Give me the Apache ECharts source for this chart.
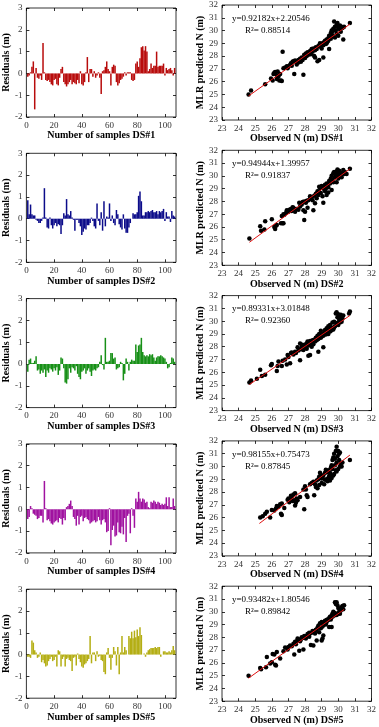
<!DOCTYPE html>
<html>
<head>
<meta charset="utf-8">
<script src="https://cdn.jsdelivr.net/npm/echarts@6/dist/echarts.min.js"></script>
<style>
  html, body { margin: 0; padding: 0; background: #fff; }
  #chart { width: 379px; height: 727px; }
</style>
</head>
<body>
<div id="chart"></div>
<script>
const dsNames = ['DS#1', 'DS#2', 'DS#3', 'DS#4', 'DS#5'];

// residuals per sample (m), samples 1..107
const residuals1 = [-0.15,-0.1,0.05,0.3,0.55,-1.65,0.25,-0.2,-0.25,-0.1,-0.3,1.4,0.05,-0.3,-0.35,-0.3,-0.4,-0.5,-0.55,-0.3,-0.25,-0.5,-0.55,-0.2,0.2,0.3,-0.4,-0.5,-0.6,-0.5,-0.4,-0.3,-0.5,-0.4,-0.45,-0.5,-0.3,-0.45,0.1,-0.5,-0.55,-0.4,0.05,0.75,-0.4,0.2,0.2,-0.15,0.1,-0.2,-0.1,0.05,-0.2,-0.95,0.1,0.15,0.3,0.55,0.2,0.1,-0.55,0.3,0.4,0.35,-0.4,-0.55,-0.45,-0.3,-0.25,-0.15,0.05,-0.1,0.05,0.05,0.05,-0.3,-0.35,-0.3,0.45,0.55,0.3,0.7,1.2,1.25,1.05,1.25,1.0,0.1,0.2,0.45,0.25,0.35,0.35,1.0,0.3,0.35,0.35,0.35,0.45,-0.1,0.25,0.15,0.2,0.25,0.15,-0.1,0.25];
const residuals2 = [0.85,0.2,0.65,0.2,0.15,0.15,-0.05,-0.1,-0.2,-0.2,-0.1,0.05,1.4,0.05,-0.4,-0.45,0.05,-0.3,-0.45,-0.3,-0.2,-0.35,-0.25,-0.3,-0.7,-0.3,0.25,0.15,0.9,0.2,0.15,0.35,0.05,-0.05,-0.55,-0.05,-0.05,-0.2,-0.35,-0.75,-0.6,-0.45,-0.5,-0.3,-0.3,-0.2,0.05,-0.1,-0.35,-0.45,0.7,-0.1,-0.3,0.3,-0.55,0.8,-0.35,0.1,0.05,0.7,-0.1,0.15,-0.2,-0.3,0.4,0.2,-0.25,-0.4,-0.5,0.2,-0.45,-0.65,-0.65,-0.4,-0.2,0.0,0.25,0.2,0.2,0.3,1.05,1.25,0.8,0.15,0.15,0.3,0.3,0.35,0.3,0.35,0.4,0.3,0.3,0.35,0.2,0.35,0.3,0.35,0.45,-0.1,0.3,0.1,0.1,-0.15,0.35,0.15,0.1];
const residuals3 = [-0.35,0.2,0.25,0.05,0.05,0.15,0.35,-0.3,-0.25,-0.45,-0.3,-0.4,-0.25,-0.6,-0.3,-0.4,-0.2,-0.25,-0.35,-0.2,-0.3,-0.15,-0.5,-0.3,0.3,0.25,-0.2,-0.85,-0.9,-0.7,-0.2,-0.4,-0.15,-0.2,-0.3,-0.1,-0.45,-0.6,-0.7,-0.35,-0.3,-0.2,-0.45,-0.3,-0.2,-0.35,-0.55,-0.3,-0.25,-0.3,-0.2,-0.15,0.1,0.4,-0.05,-0.25,1.2,0.1,0.1,0.15,0.5,0.5,0.25,0.3,-0.25,-0.2,-0.15,0.1,0.05,-0.75,-0.45,0.25,0.1,-0.3,0.1,0.2,0.15,0.15,0.9,0.55,0.85,0.9,1.2,0.55,0.4,0.35,0.4,0.35,0.45,0.4,0.45,0.3,0.15,0.3,0.35,0.35,0.4,0.35,0.3,0.25,0.1,-0.2,-0.15,0.05,0.3,0.25,0.1];
const residuals4 = [-0.45,-0.35,0.15,0.05,-0.2,-0.25,-0.3,-0.45,-0.4,-0.3,-0.3,-0.6,1.3,0.05,-0.5,-0.45,-0.55,-0.65,-0.7,-0.6,-0.55,-0.5,-0.6,-0.4,-0.45,-0.7,-0.4,-0.5,0.1,0.15,0.25,0.4,0.15,-0.35,-0.45,-0.75,-0.3,-0.7,-0.35,-0.3,-0.55,-0.4,-0.35,-0.45,-0.5,-0.65,-0.6,-0.55,-0.5,-0.6,-0.55,-0.35,-0.5,-0.7,-0.5,-0.45,-0.6,-1.05,-1.0,0.05,-1.65,-0.95,-0.75,-1.25,-1.2,-0.6,-1.05,-1.1,-0.8,-1.15,-0.4,-1.5,-0.3,-0.2,-1.1,0.05,-0.3,-0.85,0.5,0.35,0.8,0.5,0.35,0.5,0.45,0.3,0.35,0.1,0.05,0.35,0.3,0.4,0.35,0.25,0.35,0.3,0.2,0.25,0.2,0.25,0.55,0.15,0.55,0.1,0.1,0.5,0.15];
const residuals5 = [-0.1,-0.1,-0.15,0.65,0.55,0.2,0.1,-0.15,-0.1,0.1,-0.35,-0.25,-0.4,-0.55,-0.5,-0.3,-0.2,-0.1,-0.3,-0.25,-0.1,-0.55,0.2,0.15,-0.55,-0.2,-0.1,-0.55,-0.2,-0.15,-0.25,-0.3,-0.75,-0.15,-0.1,-0.5,0.05,-0.2,-0.35,-0.55,-0.6,-0.45,-0.4,-0.3,-0.2,0.85,-0.4,0.1,0.1,-0.3,0.15,-0.1,-0.05,-0.25,-0.3,-0.8,-0.9,0.1,0.3,-0.15,-0.7,-0.15,0.35,0.15,-0.5,0.35,-0.9,0.1,0.85,0.1,0.35,0.2,0.0,0.85,0.75,1.05,0.75,1.1,0.8,1.15,0.85,1.25,0.9,0.0,0.05,-0.1,0.1,0.2,0.25,0.3,0.3,0.3,0.35,0.3,0.35,0.35,-0.1,0.0,0.15,0.15,0.1,0.1,0.15,0.1,0.2,0.4,0.2];

// observed N (m) vs MLR predicted N (m)
const scatter1 = [[24.6,25.0],[24.75,25.3],[25.6,25.8],[25.95,26.25],[26.05,26.1],[26.1,26.6],[26.15,26.7],[26.2,26.75],[26.3,26.5],[26.3,26.2],[26.35,26.8],[26.4,26.4],[26.45,26.1],[26.55,26.1],[26.6,26.05],[26.5,26.6],[26.65,28.35],[26.7,27.05],[26.8,27.1],[26.9,27.2],[27.0,27.2],[27.1,27.3],[27.2,27.25],[27.25,27.55],[27.3,27.6],[27.35,26.6],[27.4,27.65],[27.5,27.35],[27.6,27.7],[27.7,27.8],[27.75,27.55],[27.8,27.9],[27.85,27.7],[27.9,26.55],[27.95,28.1],[28.0,27.85],[28.05,28.2],[28.1,28.0],[28.15,28.3],[28.2,28.25],[28.3,28.4],[28.35,28.15],[28.4,28.5],[28.45,28.35],[28.5,28.6],[28.55,28.0],[28.6,27.9],[28.6,28.45],[28.65,28.7],[28.7,28.55],[28.75,27.6],[28.8,28.8],[28.85,27.7],[28.9,28.75],[28.95,28.95],[29.0,28.6],[29.05,29.0],[29.1,27.9],[29.1,28.85],[29.15,29.1],[29.2,29.2],[29.25,28.95],[29.3,29.3],[29.35,29.15],[29.4,29.4],[29.45,28.55],[29.45,29.6],[29.5,29.5],[29.55,29.8],[29.6,29.7],[29.6,30.0],[29.65,29.9],[29.7,30.15],[29.7,29.55],[29.75,30.7],[29.8,30.3],[29.85,30.0],[29.9,30.45],[29.9,29.75],[29.95,30.6],[30.0,30.2],[30.0,29.6],[30.05,30.35],[30.1,30.1],[30.15,29.9],[30.2,30.3],[30.25,30.2],[30.3,29.3],[30.35,30.3],[30.7,30.6],[29.3,29.0],[29.4,29.2],[28.9,29.0],[28.4,28.55],[28.2,28.1],[27.6,27.5],[27.15,27.45],[26.95,27.05],[29.55,29.35],[29.8,29.45],[30.1,30.4]];
const scatter2 = [[24.65,25.1],[25.3,26.05],[25.35,25.7],[25.6,26.45],[25.55,25.8],[26.0,26.6],[26.15,26.0],[26.2,25.85],[26.25,26.1],[26.3,26.15],[26.55,26.3],[26.65,26.3],[26.7,26.3],[26.6,26.85],[26.7,27.0],[26.75,26.95],[26.85,27.1],[26.9,27.3],[27.0,27.2],[27.05,27.35],[27.15,27.4],[27.2,27.25],[27.3,27.5],[27.35,27.4],[27.4,27.2],[27.5,27.4],[27.6,27.35],[27.7,27.6],[27.8,27.75],[27.85,27.95],[27.9,27.3],[27.95,26.55],[27.95,28.0],[28.0,27.2],[28.05,27.9],[28.1,28.05],[28.15,27.5],[28.2,28.1],[28.3,28.2],[28.4,28.3],[28.45,28.1],[28.5,27.3],[28.55,28.45],[28.6,27.85],[28.65,28.6],[28.7,28.25],[28.75,28.8],[28.8,28.5],[28.85,28.75],[28.9,29.05],[28.95,28.65],[29.0,29.2],[29.05,28.4],[29.1,27.9],[29.1,29.1],[29.15,28.95],[29.2,29.3],[29.25,29.0],[29.3,28.5],[29.3,29.4],[29.35,29.25],[29.4,28.7],[29.45,29.6],[29.5,29.4],[29.55,29.8],[29.6,28.9],[29.6,30.0],[29.65,29.7],[29.7,30.2],[29.75,30.3],[29.8,29.9],[29.85,30.1],[29.9,30.35],[29.9,29.5],[29.95,30.5],[30.0,29.8],[30.0,30.2],[30.05,30.4],[30.1,30.0],[30.15,30.25],[30.2,29.9],[30.25,30.1],[30.3,30.45],[30.35,30.15],[30.4,30.3],[30.5,30.15],[30.7,30.55],[29.2,28.8],[28.3,28.4],[27.65,27.9],[29.4,29.1],[29.7,29.5],[30.0,30.05],[28.85,29.15],[27.25,27.55]];
const scatter3 = [[24.65,25.2],[24.75,25.35],[25.1,25.5],[25.3,26.2],[25.4,25.7],[25.6,25.8],[25.95,26.55],[26.0,26.65],[26.3,26.1],[26.35,26.5],[26.4,26.85],[26.6,26.5],[26.65,26.9],[26.8,27.0],[26.9,26.6],[26.95,27.35],[27.0,27.2],[27.1,26.7],[27.15,27.5],[27.2,27.55],[27.3,27.4],[27.45,27.5],[27.55,27.95],[27.6,27.7],[27.7,26.95],[27.7,28.25],[27.75,27.8],[27.8,28.0],[27.85,28.15],[27.9,27.75],[27.95,28.05],[28.0,27.9],[28.05,28.2],[28.1,27.85],[28.15,28.4],[28.2,27.3],[28.2,28.1],[28.3,27.35],[28.3,28.45],[28.35,28.2],[28.4,28.3],[28.45,28.5],[28.5,28.2],[28.55,28.55],[28.6,28.4],[28.65,28.7],[28.7,28.5],[28.75,28.85],[28.8,27.6],[28.8,28.6],[28.85,29.0],[28.9,28.75],[28.95,29.25],[29.0,28.8],[29.05,29.0],[29.1,27.95],[29.1,28.85],[29.15,29.1],[29.2,29.3],[29.25,28.95],[29.3,29.45],[29.35,29.2],[29.4,29.6],[29.4,29.0],[29.45,29.35],[29.5,29.7],[29.55,29.25],[29.6,29.5],[29.65,29.9],[29.7,29.35],[29.75,29.95],[29.8,29.6],[29.85,30.6],[29.9,30.7],[29.9,29.85],[29.95,30.3],[30.0,29.7],[30.0,30.55],[30.05,30.1],[30.1,29.9],[30.15,30.5],[30.2,29.95],[30.25,30.2],[30.3,30.45],[30.7,30.75],[30.65,30.6],[29.2,29.0],[29.6,29.3],[28.4,28.0],[28.95,28.7],[27.4,27.6],[29.75,29.5],[30.1,30.3],[29.5,29.2],[28.1,28.25]];
const scatter4 = [[25.3,26.0],[25.45,26.1],[25.6,26.3],[25.7,26.45],[25.9,26.0],[26.0,26.6],[26.15,26.55],[26.25,26.7],[26.3,26.9],[26.4,26.85],[26.5,27.05],[26.55,26.3],[26.6,26.2],[26.6,27.1],[26.75,26.75],[26.95,27.4],[27.0,27.5],[27.05,27.2],[27.1,27.45],[27.15,27.7],[27.2,27.6],[27.25,27.3],[27.3,27.8],[27.35,27.35],[27.4,27.9],[27.4,26.95],[27.45,27.15],[27.5,27.5],[27.55,27.35],[27.7,27.6],[27.9,28.2],[27.95,26.65],[28.0,28.45],[28.05,28.2],[28.1,27.75],[28.15,27.6],[28.3,28.6],[28.4,28.7],[28.5,28.8],[28.55,27.75],[28.6,28.6],[28.65,28.4],[28.7,28.9],[28.75,28.3],[28.8,29.0],[28.85,29.2],[28.9,29.5],[28.95,29.35],[29.0,28.7],[29.05,29.1],[29.1,29.3],[29.15,28.6],[29.2,29.5],[29.2,28.95],[29.25,29.75],[29.3,29.0],[29.3,29.55],[29.35,28.85],[29.4,29.7],[29.4,29.1],[29.45,29.25],[29.5,29.5],[29.5,28.9],[29.55,29.9],[29.55,29.3],[29.6,29.1],[29.6,30.1],[29.65,30.5],[29.7,29.3],[29.7,30.7],[29.75,31.0],[29.75,29.4],[29.8,30.6],[29.8,30.1],[29.85,31.2],[29.85,29.7],[29.9,31.55],[29.9,30.3],[29.9,29.6],[29.95,30.8],[30.0,31.2],[30.0,29.8],[30.05,30.5],[30.05,31.0],[30.1,31.1],[30.1,30.0],[30.15,30.2],[30.2,30.0],[30.25,30.3],[30.7,30.5],[29.45,29.0],[29.65,29.8],[29.0,29.05],[28.85,28.55]];
const scatter5 = [[24.6,25.0],[25.3,25.6],[25.35,25.5],[25.65,25.65],[25.7,26.45],[25.9,25.95],[26.0,26.05],[26.05,26.7],[26.15,26.65],[26.2,25.85],[26.25,25.8],[26.3,26.85],[26.5,26.35],[26.7,26.9],[26.8,27.2],[26.95,27.05],[27.0,27.25],[27.1,27.35],[27.2,27.3],[27.3,27.5],[27.35,26.65],[27.4,27.65],[27.45,27.45],[27.5,27.7],[27.55,27.9],[27.6,27.8],[27.65,26.95],[27.7,27.7],[27.75,27.85],[27.8,28.0],[27.85,27.95],[27.9,27.05],[27.95,28.1],[28.0,28.05],[28.05,27.9],[28.1,28.1],[28.15,28.25],[28.2,28.15],[28.25,28.05],[28.3,28.3],[28.35,27.4],[28.4,28.35],[28.45,28.5],[28.5,27.35],[28.55,28.5],[28.6,28.3],[28.65,28.6],[28.7,27.75],[28.75,28.75],[28.8,28.9],[28.85,28.4],[28.9,29.1],[28.95,28.7],[29.0,29.2],[29.0,27.75],[29.05,27.9],[29.05,28.85],[29.1,28.15],[29.1,28.95],[29.15,29.1],[29.2,29.3],[29.25,29.0],[29.3,29.2],[29.35,29.4],[29.4,29.35],[29.45,28.8],[29.45,29.5],[29.5,29.6],[29.55,29.4],[29.6,28.8],[29.6,29.7],[29.65,29.6],[29.7,30.0],[29.75,29.7],[29.8,30.75],[29.8,29.9],[29.85,30.6],[29.9,30.75],[29.9,29.75],[29.95,30.5],[30.0,30.3],[30.0,29.85],[30.05,30.0],[30.1,29.85],[30.1,30.2],[30.15,30.1],[30.2,30.35],[30.25,30.45],[30.3,30.2],[30.35,30.5],[29.65,29.85],[29.3,29.35],[28.7,28.6],[28.25,28.35]];

// linear fits
const slopes = ['0.92182', '0.94944', '0.89331', '0.98155', '0.93482'];
const intercepts = ['2.20546', '1.39957', '3.01848', '0.75473', '1.80546'];
const r2Values = ['0.88514', '0.91837', '0.92360', '0.87845', '0.89842'];
const fitRanges = [[24.6, 30.7], [24.65, 30.7], [24.65, 30.7], [25.25, 30.7], [24.6, 30.35]];

const barColors = ['#b80c0c', '#0c0c8a', '#179017', '#a012a0', '#b4ae14'];

const residuals = [residuals1, residuals2, residuals3, residuals4, residuals5];
const scatters = [scatter1, scatter2, scatter3, scatter4, scatter5];

const serif = '"Liberation Serif", "Times New Roman", serif';
const tickLabel = { fontSize: 9, fontFamily: serif, color: '#333', margin: 4 };
const nameStyle = { fontSize: 10, fontFamily: serif, fontWeight: 'bold', color: '#000' };
const tick = { show: true, inside: true, length: 3, lineStyle: { color: '#000', width: 0.8 } };

const grid = [], xAxis = [], yAxis = [], series = [], graphic = [];

function addAxes(g, xr, yr, xName, yName, xGap, yGap) {
  xAxis.push({
    type: 'value', gridIndex: g, min: xr[0], max: xr[1], interval: xr[2],
    name: xName, nameLocation: 'middle', nameGap: xGap, nameTextStyle: nameStyle,
    axisLine: { show: false, onZero: false }, axisTick: tick, axisLabel: tickLabel,
    splitLine: { show: false }
  });
  xAxis.push({
    type: 'value', gridIndex: g, position: 'top', min: xr[0], max: xr[1], interval: xr[2],
    axisLine: { show: false, onZero: false }, axisTick: tick, axisLabel: { show: false },
    splitLine: { show: false }
  });
  yAxis.push({
    type: 'value', gridIndex: g, min: yr[0], max: yr[1], interval: yr[2],
    name: yName, nameLocation: 'middle', nameGap: yGap, nameRotate: 90, nameTextStyle: nameStyle,
    axisLine: { show: false, onZero: false }, axisTick: tick, axisLabel: tickLabel,
    splitLine: { show: false }
  });
  yAxis.push({
    type: 'value', gridIndex: g, position: 'right', min: yr[0], max: yr[1], interval: yr[2],
    axisLine: { show: false, onZero: false }, axisTick: tick, axisLabel: { show: false },
    splitLine: { show: false }
  });
}

for (let i = 0; i < 5; i++) {
  const off = i * 145.3;
  const gl = 2 * i, gr = 2 * i + 1;
  grid.push({ left: 25, top: 8 + off, width: 151, height: 109, show: true, borderColor: '#000', borderWidth: 0.8 });
  grid.push({ left: 222, top: 5 + off, width: 150, height: 115, show: true, borderColor: '#000', borderWidth: 0.8 });

  addAxes(gl, [0, 108, 20], [-2, 3, 1], 'Number of samples ' + dsNames[i], 'Residuals (m)', 12, 10);
  addAxes(gr, [23, 32, 1], [23, 32, 1], 'Observed N (m) ' + dsNames[i], 'MLR predicted N (m)', 11, 13);

  series.push({
    type: 'bar', xAxisIndex: 2 * gl, yAxisIndex: 2 * gl,
    data: residuals[i].map((v, k) => [k + 1, v]),
    barWidth: 1.5,
    itemStyle: { color: barColors[i], opacity: 1 }
  });
  series.push({
    type: 'scatter', xAxisIndex: 2 * gr, yAxisIndex: 2 * gr,
    data: scatters[i], symbolSize: 4.5,
    itemStyle: { color: '#000', opacity: 1 }
  });
  const a = parseFloat(slopes[i]), b = parseFloat(intercepts[i]);
  series.push({
    type: 'line', xAxisIndex: 2 * gr, yAxisIndex: 2 * gr,
    data: fitRanges[i].map(x => [x, a * x + b]),
    symbol: 'none', lineStyle: { color: '#e01010', width: 1 }, z: 3
  });

  graphic.push({
    type: 'text', left: 232, top: off + 14,
    style: { text: 'y=' + slopes[i] + 'x+' + intercepts[i], font: '9px ' + serif, fill: '#000' }
  });
  graphic.push({
    type: 'text', left: 245, top: off + 26,
    style: { text: 'R\u00b2= ' + r2Values[i], font: '9px ' + serif, fill: '#000' }
  });
}

const chart = echarts.init(document.getElementById('chart'), null, { renderer: 'canvas' });
chart.setOption({
  backgroundColor: '#fff',
  animation: false,
  grid, xAxis, yAxis, series, graphic
});
</script>
</body>
</html>
